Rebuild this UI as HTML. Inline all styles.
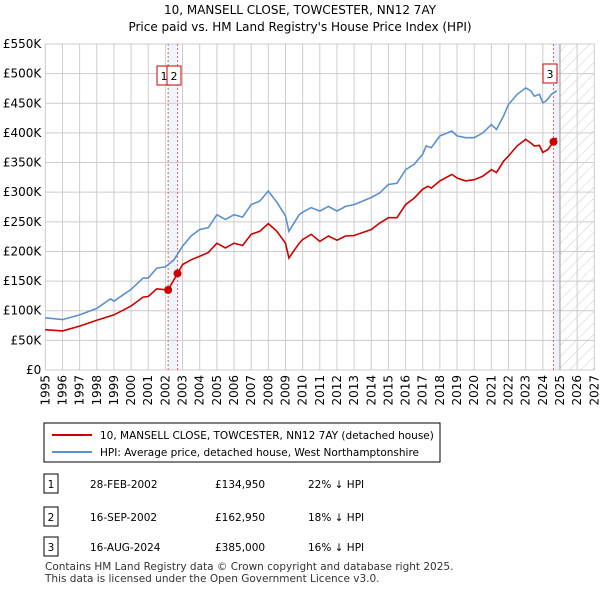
<!DOCTYPE html>
<html><head><meta charset="utf-8"><style>
body{margin:0;background:#fff;font-family:"Liberation Sans","DejaVu Sans",sans-serif;}
#wrap{position:relative;width:600px;height:590px;overflow:hidden}
text{font-family:"DejaVu Sans","Liberation Sans",sans-serif}
</style></head><body><div id="wrap">
<svg id="svg" width="600" height="590" xmlns="http://www.w3.org/2000/svg">
<defs><pattern id="hatch" width="8" height="8" patternUnits="userSpaceOnUse" patternTransform="rotate(45)"><line x1="0" y1="0" x2="0" y2="8" stroke="#ccc" stroke-width="1"/></pattern></defs>
<text x="300" y="14" text-anchor="middle" font-size="12">10, MANSELL CLOSE, TOWCESTER, NN12 7AY</text>
<text x="300" y="31" text-anchor="middle" font-size="12">Price paid vs. HM Land Registry's House Price Index (HPI)</text>
<g id="grid"></g><g id="axes"></g><g id="series"></g>
<rect x="44" y="423" width="396" height="39" fill="#fff" stroke="#000" stroke-width="1"/>
<line x1="52" y1="435" x2="92" y2="435" stroke="#cc0000" stroke-width="2"/>
<text x="100" y="439" font-size="10.5">10, MANSELL CLOSE, TOWCESTER, NN12 7AY (detached house)</text>
<line x1="52" y1="452" x2="92" y2="452" stroke="#5b8fd0" stroke-width="2"/>
<text x="100" y="456" font-size="10.5">HPI: Average price, detached house, West Northamptonshire</text>
<g id="table" font-size="10.5"></g>
<text x="45" y="570" font-size="10.5" fill="#333">Contains HM Land Registry data © Crown copyright and database right 2025.</text>
<text x="45" y="582" font-size="10.5" fill="#333">This data is licensed under the Open Government Licence v3.0.</text>
</svg></div>
<script>
const hpiYears=[1995,1996,1997,1998,1998.8,1999,2000,2000.7,2001,2001.5,2002,2002.5,2003,2003.5,2004,2004.5,2005,2005.5,2006,2006.5,2007,2007.5,2008,2008.5,2009,2009.2,2009.8,2010,2010.5,2011,2011.5,2012,2012.5,2013,2014,2014.5,2015,2015.5,2016,2016.5,2017,2017.2,2017.5,2018,2018.7,2019,2019.5,2020,2020.5,2021,2021.3,2021.7,2022,2022.5,2023,2023.3,2023.5,2023.8,2024,2024.2,2024.5,2024.8];
const hpiValues=[88,85,93,104,120,116,136,155,155,172,174,186,209,226,237,240,262,254,262,258,279,285,302,283,260,234,262,266,274,268,276,268,276,279,291,299,313,315,338,347,364,378,375,395,403,395,392,392,400,414,406,428,448,465,476,471,462,465,451,454,465,471];
const ppYears=[1995,1996,1997,1998,1999,2000,2000.7,2001,2001.5,2002.16,2002.71,2003,2003.5,2004,2004.5,2005,2005.5,2006,2006.5,2007,2007.5,2008,2008.5,2009,2009.2,2009.8,2010,2010.5,2011,2011.5,2012,2012.5,2013,2014,2014.5,2015,2015.5,2016,2016.5,2017,2017.3,2017.5,2018,2018.7,2019,2019.5,2020,2020.5,2021,2021.3,2021.7,2022,2022.5,2023,2023.3,2023.5,2023.8,2024,2024.3,2024.62,2024.8];
const ppValues=[68,66,74,84,93,108,123,124,137,135,163,178,186,192,198,214,206,214,210,229,234,247,234,214,189,214,220,229,217,226,219,226,227,237,248,257,257,279,290,305,310,307,319,330,324,319,321,327,338,333,352,361,378,389,383,378,379,367,372,385,392];
const saleLabels=["1","2","3"];
const saleYears=[2002.16,2002.71,2024.62];
const saleValues=[134.95,162.95,385];
const saleDates=["28-FEB-2002","16-SEP-2002","16-AUG-2024"];
const salePrices=["£134,950","£162,950","£385,000"];
const salePct=["22% ↓ HPI","18% ↓ HPI","16% ↓ HPI"];
const yTicks=[0,50,100,150,200,250,300,350,400,450,500,550];
const xTicks=[1995,1996,1997,1998,1999,2000,2001,2002,2003,2004,2005,2006,2007,2008,2009,2010,2011,2012,2013,2014,2015,2016,2017,2018,2019,2020,2021,2022,2023,2024,2025,2026,2027];

const L=45.3,R=594.3,T=44,B=370;
const X=y=>L+(y-1995)/32*(R-L);
const Y=v=>B-v/550*(B-T);
const NS="http://www.w3.org/2000/svg";
function mk(p,tag,attrs){const e=document.createElementNS(NS,tag);for(const k in attrs)e.setAttribute(k,attrs[k]);p.appendChild(e);return e;}
const grid=document.getElementById('grid'),axes=document.getElementById('axes'),ser=document.getElementById('series'),tab=document.getElementById('table');
// bands
let band=mk(grid,'rect',{x:X(saleYears[0]),y:T,width:X(saleYears[1])-X(saleYears[0]),height:B-T,fill:'#eef3fc'});


let band2=mk(grid,'rect',{x:X(saleYears[2]),y:T,width:X(2025)-X(saleYears[2]),height:B-T,fill:'#eef3fc'});


let hat=mk(grid,'rect',{x:X(2025),y:T,width:R-X(2025),height:B-T,fill:'url(#hatch)'});


yTicks.forEach(t=>{
 let l=mk(grid,'line',{x1:L,x2:R,y1:Y(t),y2:Y(t),stroke:'#ccc','stroke-width':1});
 
 
 let tx=mk(axes,'text',{x:L-4,y:Y(t)+4,'text-anchor':'end','font-size':12});
 tx.textContent=t===0?'£0':'£'+t+'K';
 
 
});
xTicks.forEach(t=>{
 let l=mk(grid,'line',{x1:X(t),x2:X(t),y1:T,y2:B,stroke:'#ccc','stroke-width':1});
 
 
 let tx=mk(axes,'text',{x:0,y:0,'text-anchor':'end','font-size':12,transform:`translate(${X(t)+4},${B+5}) rotate(-90)`});
 tx.textContent=t;
 
 
});
let vl=mk(grid,'line',{x1:X(2025),x2:X(2025),y1:T,y2:B,stroke:'#999','stroke-width':1});


saleYears.forEach((s,i)=>{
 let l=mk(grid,'line',{x1:X(s),x2:X(s),y1:T,y2:B,stroke:'#e06060','stroke-width':1,'stroke-dasharray':'2,2'});
 
 
});
function line(xs,vs,col,name){
 let d=xs.map((x,i)=>(i?'L':'M')+X(x).toFixed(1)+','+Y(vs[i]).toFixed(1)).join('');
 let p=mk(ser,'path',{d:d,fill:'none',stroke:col,'stroke-width':1.6});
 
 
}
line(hpiYears,hpiValues,'#5b8fd0','hpi-line');
line(ppYears,ppValues,'#cc0000','price-paid-line');
saleYears.forEach((s,i)=>{
 let c=mk(ser,'circle',{cx:X(s),cy:Y(saleValues[i]),r:4,fill:'#cc0000'});
 
 
});
// marker boxes
const boxPos=[[157,66],[167,66],[543,64]];
saleLabels.forEach((lab,i)=>{
 const g=mk(ser,'g',{});
 
 
 mk(g,'rect',{x:boxPos[i][0],y:boxPos[i][1],width:14,height:19,fill:'#fff',stroke:'#cc0000','stroke-width':1});
 let t=mk(g,'text',{x:boxPos[i][0]+7,y:boxPos[i][1]+14,'text-anchor':'middle','font-size':11});
 t.textContent=lab;
});
const rowY=[484,517,547];
saleLabels.forEach((lab,i)=>{
 const g=mk(tab,'g',{});
 
 
 mk(g,'rect',{x:44,y:rowY[i]-10,width:14,height:19,fill:'#fff',stroke:'#000','stroke-width':1});
 let t=mk(g,'text',{x:51,y:rowY[i]+4,'text-anchor':'middle'});t.textContent=lab;
 t=mk(g,'text',{x:90,y:rowY[i]+4});t.textContent=saleDates[i];
 t=mk(g,'text',{x:215,y:rowY[i]+4});t.textContent=salePrices[i];
 t=mk(g,'text',{x:308,y:rowY[i]+4});t.textContent=salePct[i];
});
</script></body></html>
